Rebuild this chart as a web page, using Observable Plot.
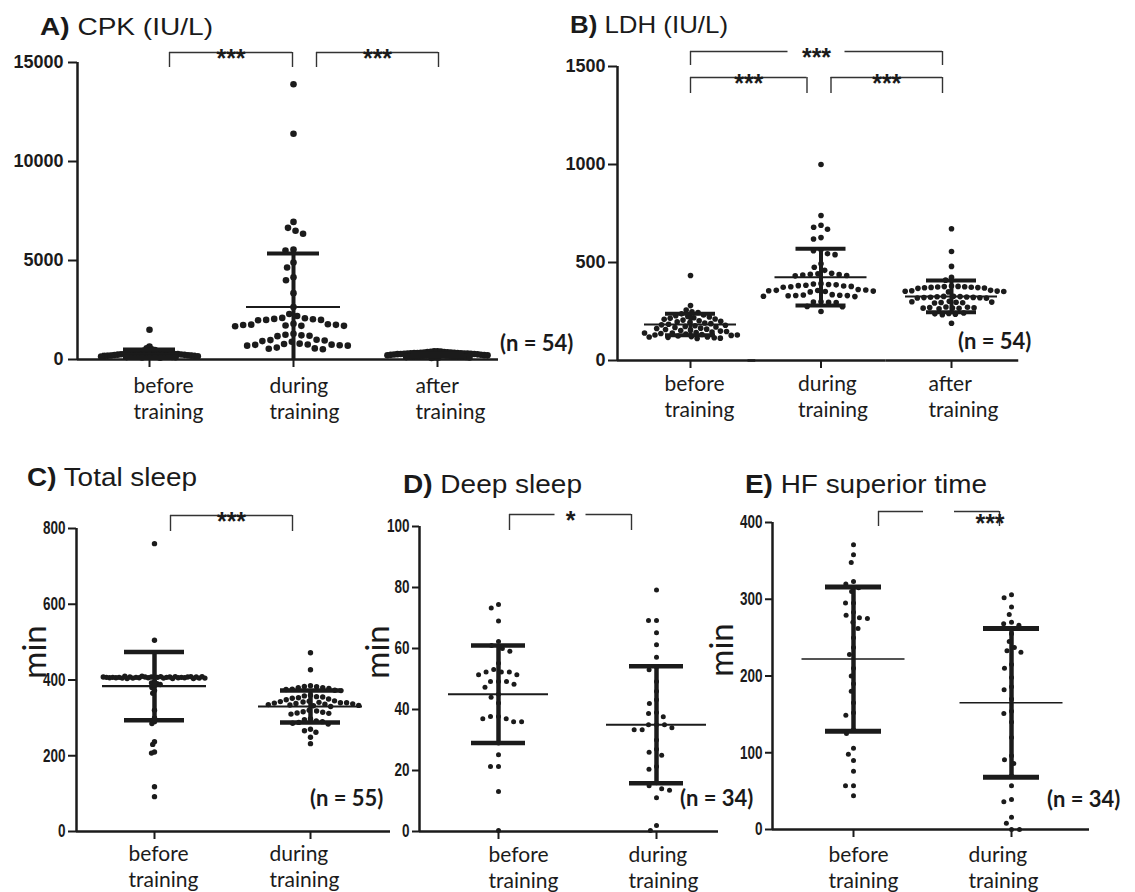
<!DOCTYPE html>
<html><head><meta charset="utf-8">
<script src="https://cdn.jsdelivr.net/npm/d3@7"></script>
<script src="https://cdn.jsdelivr.net/npm/@observablehq/plot@0.6"></script>
<style>
html,body{margin:0;padding:0;background:#fff;}
#root{position:relative;width:1135px;height:892px;overflow:hidden;background:#fff;}
.abs{position:absolute;white-space:nowrap;line-height:1;color:#1a1a1a;}
.title{font-family:"Liberation Sans",Arial,sans-serif;transform-origin:0 0;}
.nlab{font-family:Lato,sans-serif;font-weight:bold;font-size:22px;}
.ylab{font-family:Lato,sans-serif;font-size:33px;transform:translate(-50%,-50%) rotate(-90deg);}
.panel{position:absolute;}
.panel svg{overflow:visible;max-width:none !important;}
</style></head><body><div id="root"></div>
<script>
// ---------- data ----------
const groups3 = ["before training", "during training", "after training"];
const groups2 = ["before training", "during training"];

const cpkBefore = [1500,650,560,520,480,450,430,410,390,380,370,360,350,340,330,320,310,300,290,285,280,275,270,265,260,255,250,245,240,235,230,225,220,215,210,205,200,195,190,185,180,175,170,165,160,155,150,145,140,130,120,110,100,90];
const cpkDuring = [13900,11400,6950,6650,6500,6350,5550,5500,4900,4650,4150,4000,3350,2650,2300,2200,2100,2080,2050,2030,2000,2000,1980,1800,1780,1760,1750,1740,1720,1700,1700,1680,1300,1250,1220,1200,1180,1000,980,960,930,900,800,780,760,750,740,720,700,700,600,560,540,520];
const cpkAfter = [420,410,400,390,380,370,360,350,345,340,335,330,325,320,315,310,305,300,295,290,285,280,275,270,265,260,255,250,245,240,235,230,225,220,215,210,205,200,195,190,185,180,175,170,165,160,150,140,130,120,110,100,90,80];
const cpkMeans = [290, 2650, 230];
const cpkSDs = [210, 2700, 90];
const cpkTicks = [0, 5000, 10000, 15000];

const ldhBefore = [434,280,258,248,245,238,232,228,225,222,218,215,212,210,206,203,200,197,194,191,188,185,182,180,177,174,171,168,165,163,160,158,155,153,150,148,145,143,140,138,135,133,130,128,125,122,120,118,116,114,112,120,130,140];
const ldhDuring = [1000,740,690,680,670,627,620,565,560,545,540,494,476,460,445,442,440,438,436,434,432,392,390,388,386,384,382,380,378,376,374,362,360,358,357,356,354,352,350,336,334,333,332,331,330,328,326,300,298,297,296,276,274,250];
const ldhAfter = [672,556,480,425,410,380,378,377,376,375,374,373,372,371,370,368,358,356,354,353,352,350,328,327,326,325,324,323,322,321,320,319,318,302,300,298,297,296,295,293,273,272,270,269,268,267,266,264,242,240,238,236,234,190];
const ldhMeans = [184, 425, 327];
const ldhSDs = [55, 145, 81];
const ldhTicks = [0, 500, 1000, 1500];

const totalBefore = [760,505,320,300,290,285,237,230,210,207,118,92,409,408,407,409,406,408,405,407,410,406,408,404,407,409,405,406,408,407,404,410,406,405,408,407,409,406,404,407,408,405,406,409,407,405,408,395,392,390,388,385,380,372,365];
const totalDuring = [472,427,385,383,382,380,380,378,376,375,373,372,360,358,356,355,353,352,350,348,345,344,343,342,341,340,340,339,338,337,336,335,334,333,332,330,320,318,316,315,313,312,310,298,295,292,290,288,286,284,270,266,262,249,232];
const totalMeans = [384, 330];
const totalSDs = [90, 42];
const totalTicks = [0, 200, 400, 600, 800];

const deepBefore = [74.4,73.3,69,62.3,61,60,59.1,55.2,53.1,52.3,52.3,52.3,51.4,51.4,49.2,49.2,49.2,48.3,47.3,45,44,42.1,37.7,37.7,37,37,36,36,29,25.2,21.3,21.3,13.1,0.3];
const deepDuring = [79.2,69.2,69.2,65.2,61.2,57.1,54,53,49.2,46,43.2,42,39,38.7,37.6,35,35,35,34,33.4,33.4,30,27,26,25,21.3,20.4,16,15,14,13.5,11.1,2,0.3];
const deepMeans = [45, 35];
const deepSDs = [16, 19.2];
const deepTicks = [0, 20, 40, 60, 80, 100];

const hfBefore = [371,358,348,323,320,315,310,295,295,283,279,276,275,270,262,250,237,228,210,200,190,180,165,152,149,130,125,106,98,90,76,57,57,44];
const hfDuring = [306,302,290,280,270,268,266,262,255,245,237,233,231,215,210,198,186,182,170,154,151,140,120,96,91,86,70,57,39,36,16,8,0,0];
const hfMeans = [222, 165];
const hfSDs = [94, 97];
const hfTicks = [0, 100, 200, 300, 400];

const cpkBrackets = [{from: "before training", to: "during training", label: "***"}, {from: "during training", to: "after training", label: "***"}];
const ldhBrackets = [{from: "before training", to: "during training", label: "***"}, {from: "during training", to: "after training", label: "***"}, {from: "before training", to: "after training", label: "***"}];
const totalBrackets = [{from: "before training", to: "during training", label: "***"}];
const deepBrackets = [{from: "before training", to: "during training", label: "*"}];
const hfBrackets = [{from: "before training", to: "during training", label: "***"}];

// ---------- layout ----------
const boldSans = "'Liberation Sans', Arial, sans-serif";

const panels = [
  {letter: "A)", title: " CPK (IU/L)", groups: groups3, series: [cpkBefore, cpkDuring, cpkAfter], means: cpkMeans, sds: cpkSDs, ticks: cpkTicks, max: 15000, n: "(n = 54)", brackets: cpkBrackets, ylabel: null,
   L: {svgLeft: 0, svgTop: 0, svgH: 440, mR: 30, axisX: 77, firstCenter: 149, step: 144, yTop: 62, yZero: 359, endInset: 11,
       r: 3.3, pads: [-3.25, 1.5, -3.25], meanW: 94, capW: 52, meanSW: 2, capSW: 4, barSW: 4,
       tickFS: 18, tickSquash: 1, tickSize: 9, tickPad: 5, labelDx: [-16, -24, -22], labelBase: 30,
       title: {x: 40, base: 35, fs: 24, w: 173}, nl: {x: 500, cy: 345}, ylab: null,
       br: [{a: 20, b: -1, top: 10, drop: -5, gap: 0}, {a: 23, b: 1, top: 10, drop: -5, gap: 0}]}},
  {letter: "B)", title: " LDH (IU/L)", groups: groups3, series: [ldhBefore, ldhDuring, ldhAfter], means: ldhMeans, sds: ldhSDs, ticks: ldhTicks, max: 1500, n: "(n = 54)", brackets: ldhBrackets, ylabel: null,
   L: {svgLeft: 540, svgTop: 0, svgH: 440, mR: 30, axisX: 617, firstCenter: 690, step: 130.5, yTop: 66, yZero: 360, endInset: -2,
       r: 2.8, pads: [0.5, 2, 1], meanW: 92, capW: 50, meanSW: 2, capSW: 4, barSW: 4,
       tickFS: 18, tickSquash: 1, tickSize: 9, tickPad: 3, labelDx: [-26, -23, -23], labelBase: 27,
       title: {x: 570, base: 33, fs: 24, w: 158}, nl: {x: 958, cy: 343}, ylab: null,
       br: [{a: 0, b: -14, top: -11, drop: -27, gap: 0}, {a: 10, b: -9, top: -11, drop: -27, gap: 0}, {a: 0, b: -9, top: 15, drop: 1, gap: 57}]}},
  {letter: "C)", title: " Total sleep", groups: groups2, series: [totalBefore, totalDuring], means: totalMeans, sds: totalSDs, ticks: totalTicks, max: 800, n: "(n = 55)", brackets: totalBrackets, ylabel: "min",
   L: {svgLeft: 0, svgTop: 440, svgH: 452, mR: 20, axisX: 76, firstCenter: 154, step: 156, yTop: 528, yZero: 831, endInset: -2,
       r: 2.7, pads: [-2.2, 0.8], meanW: 104, capW: 60, meanSW: 2.2, capSW: 4.5, barSW: 4.5,
       tickFS: 18, tickSquash: 0.75, tickSize: 8, tickPad: 3, labelDx: [-26, -41], labelBase: 26,
       title: {x: 27, base: 486, fs: 25, w: 170}, nl: {x: 310, cy: 800}, ylab: {x: 46, cy: 652},
       br: [{a: 16, b: -18, top: 13, drop: -3, gap: 0}]}},
  {letter: "D)", title: " Deep sleep", groups: groups2, series: [deepBefore, deepDuring], means: deepMeans, sds: deepSDs, ticks: deepTicks, max: 100, n: "(n = 34)", brackets: deepBrackets, ylabel: "min",
   L: {svgLeft: 340, svgTop: 440, svgH: 452, mR: 20, axisX: 419, firstCenter: 498, step: 158, yTop: 526, yZero: 831, endInset: 17,
       r: 2.5, pads: [3, 3], meanW: 100, capW: 54, meanSW: 2, capSW: 4.5, barSW: 4.5,
       tickFS: 18, tickSquash: 0.75, tickSize: 7, tickPad: 3, labelDx: [-10, -28], labelBase: 27,
       title: {x: 403, base: 493, fs: 25, w: 179}, nl: {x: 680, cy: 800}, ylab: {x: 389, cy: 652},
       br: [{a: 11, b: -25, top: 12, drop: -4, gap: 31}]}},
  {letter: "E)", title: " HF superior time", groups: groups2, series: [hfBefore, hfDuring], means: hfMeans, sds: hfSDs, ticks: hfTicks, max: 400, n: "(n = 34)", brackets: hfBrackets, ylabel: "min",
   L: {svgLeft: 700, svgTop: 440, svgH: 452, mR: 35, axisX: 772, firstCenter: 853, step: 158, yTop: 522, yZero: 829, endInset: 1,
       r: 2.5, pads: [3, 3], meanW: 103, capW: 56, meanSW: 1.5, capSW: 5, barSW: 4.5,
       tickFS: 18, tickSquash: 0.75, tickSize: 7, tickPad: 3, labelDx: [-25, -43], labelBase: 29,
       title: {x: 745, base: 493, fs: 25, w: 242}, nl: {x: 1047, cy: 801}, ylab: {x: 733, cy: 650},
       br: [{a: 25, b: -12, top: 11, drop: -4, gap: 31, dx: 51, dy: 6}]}}
];

const root = document.getElementById("root");
const ink = "#1b1b1b";

function buildPanel(p) {
  const L = p.L;
  const n = p.groups.length;
  const frameH = L.yZero - L.yTop;
  const bandStart = L.firstCenter - L.step / 2;
  const mL = bandStart - L.svgLeft;
  const width = mL + n * L.step + L.mR;
  const mT = L.yTop - L.svgTop;
  const mB = L.svgH - mT - frameH;
  const axisDx = L.axisX - bandStart;
  const pxToVal = px => p.max * (1 + px / frameH);
  const u = px => px / L.step;
  const stats = p.groups.map((g, i) => ({g, mean: p.means[i], sd: p.sds[i]}));
  const caps = stats.flatMap(d => [d.mean + d.sd, d.mean - d.sd].filter(v => v >= 0).map(v => ({g: d.g, v})));

  const marks = [];
  // axis lines
  marks.push(Plot.ruleY(p.groups.slice(0, -1), {fx: d => d, y: () => 0, insetLeft: axisDx, strokeWidth: 2.5, stroke: ink}));
  marks.push(Plot.ruleY(p.groups.slice(-1), {fx: d => d, y: () => 0, insetRight: L.endInset, strokeWidth: 2.5, stroke: ink}));
  marks.push(Plot.ruleX([p.groups[0]], {fx: d => d, x: () => -0.5, y1: () => 0, y2: () => p.max, dx: axisDx, strokeWidth: 2.5, stroke: ink}));
  marks.push(Plot.axisY({ticks: p.ticks, tickSize: L.tickSize, tickPadding: L.tickPad, tickFormat: d => String(d),
    fontSize: L.tickFS, fontWeight: "bold", fontFamily: boldSans, strokeWidth: 2, label: null, dx: axisDx}));
  marks.push(Plot.axisFx({anchor: "bottom", tickSize: 8, tickFormat: () => "", label: null, strokeWidth: 2}));
  // group labels
  marks.push(Plot.text(p.groups, {fx: d => d, x: (d, i) => u(L.labelDx[i]), y: () => 0,
    text: d => d.replace(" ", "\n"), textAnchor: "start", lineAnchor: "top", dy: L.labelBase - 0.71 * 21,
    fontSize: 21, lineHeight: 1.24, fontFamily: "Lato, sans-serif"}));
  // dots (beeswarm)
  p.groups.forEach((g, i) => {
    marks.push(Plot.dot(p.series[i], Plot.dodgeX({anchor: "middle", padding: L.pads[i]},
      {y: d => d, fx: () => g, r: L.r, fill: ink})));
  });
  // error bars
  marks.push(Plot.ruleX(stats, {fx: "g", x: () => 0, y1: d => Math.max(0, d.mean - d.sd), y2: d => d.mean + d.sd, strokeWidth: L.barSW, stroke: ink}));
  marks.push(Plot.ruleY(caps, {fx: "g", y: "v", x1: () => -u(L.capW / 2), x2: () => u(L.capW / 2), strokeWidth: L.capSW, stroke: ink}));
  marks.push(Plot.ruleY(stats, {fx: "g", y: "mean", x1: () => -u(L.meanW / 2), x2: () => u(L.meanW / 2), strokeWidth: L.meanSW, stroke: ink}));
  // significance brackets
  p.brackets.forEach((b, k) => {
    const bl = L.br[k];
    const i0 = p.groups.indexOf(b.from), i1 = p.groups.indexOf(b.to);
    const xa = u(bl.a), xb = (i1 - i0) + u(bl.b), xm = (xa + xb) / 2, gh = u(bl.gap / 2);
    const yt = pxToVal(bl.top), yd = pxToVal(bl.drop);
    const segs = bl.gap > 0 ? [[xa, xm - gh], [xm + gh, xb]] : [[xa, xb]];
    marks.push(Plot.ruleY(segs, {fx: () => b.from, y: () => yt, x1: d => d[0], x2: d => d[1], strokeWidth: 1.4, stroke: "#333"}));
    marks.push(Plot.ruleX([xa, xb], {fx: () => b.from, x: d => d, y1: () => yt, y2: () => yd, strokeWidth: 1.4, stroke: "#333"}));
    marks.push(Plot.text([b.label], {fx: () => b.from, x: () => xm, y: () => yt, text: d => d,
      dx: bl.dx || 0, dy: 6 + (bl.dy || 0), fontSize: 25, fontWeight: "bold", fontFamily: boldSans, fill: ink}));
  });

  const svg = Plot.plot({
    width, height: L.svgH,
    marginLeft: mL, marginRight: L.mR, marginTop: mT, marginBottom: mB,
    fx: {domain: p.groups, padding: 0, round: false, axis: null, label: null},
    x: {domain: [-0.5, 0.5], axis: null},
    y: {domain: [0, p.max], axis: null},
    style: {fontFamily: "Lato, sans-serif", color: ink, background: "transparent", overflow: "visible"},
    marks
  });
  const wrap = document.createElement("div");
  wrap.className = "panel";
  wrap.style.left = L.svgLeft + "px";
  wrap.style.top = L.svgTop + "px";
  wrap.style.width = width + "px";
  wrap.appendChild(svg);
  root.appendChild(wrap);

  // condensed look for the y tick labels of the sleep panels
  if (L.tickSquash !== 1) {
    svg.querySelectorAll('g[aria-label="y-axis tick label"] text').forEach(t => {
      const len = t.getComputedTextLength();
      t.setAttribute("textLength", (len * L.tickSquash).toFixed(2));
      t.setAttribute("lengthAdjust", "spacingAndGlyphs");
    });
  }

  // title
  const t = document.createElement("div");
  t.className = "abs title";
  t.style.fontSize = L.title.fs + "px";
  t.style.left = L.title.x + "px";
  t.style.top = (L.title.base - 0.8465 * L.title.fs) + "px";
  const bEl = document.createElement("b");
  bEl.textContent = p.letter;
  t.appendChild(bEl);
  t.appendChild(document.createTextNode(p.title));
  root.appendChild(t);
  const w = t.getBoundingClientRect().width;
  t.style.transform = `scaleX(${L.title.w / w})`;

  // n label
  const nl = document.createElement("div");
  nl.className = "abs nlab";
  nl.textContent = p.n;
  nl.style.left = L.nl.x + "px";
  nl.style.top = (L.nl.cy - 13) + "px";
  root.appendChild(nl);

  // y label
  if (p.ylabel) {
    const yl = document.createElement("div");
    yl.className = "abs ylab";
    yl.textContent = p.ylabel;
    yl.style.left = (L.ylab.x - 12.8) + "px";
    yl.style.top = L.ylab.cy + "px";
    root.appendChild(yl);
  }
}

panels.forEach(buildPanel);
</script></body></html>
